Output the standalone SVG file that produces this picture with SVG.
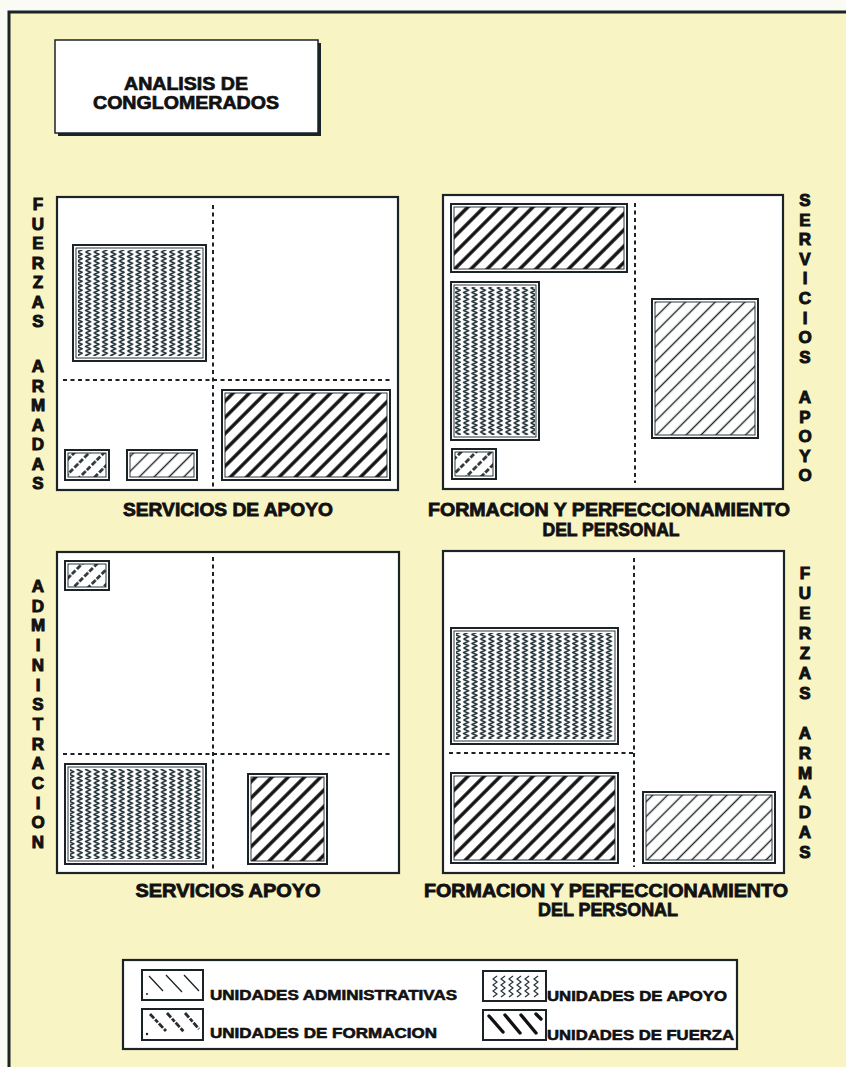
<svg xmlns="http://www.w3.org/2000/svg" width="846" height="1067" viewBox="0 0 846 1067">
<style>
.bg{fill:#fbfbf6}
.paper{fill:#f8f4c4}
.edge{stroke:#1b2327;stroke-width:3;fill:none}
.frame{fill:#fff;stroke:#1b2327;stroke-width:2.2}
.box{fill:#fff;stroke:#1b2327;stroke-width:2}
.inner{fill:none;stroke:#1b2327;stroke-width:0.9}
.dash{stroke:#1b2327;stroke-width:2;stroke-dasharray:4 3.5;fill:none}
.vl{font-family:"Liberation Sans",Arial,sans-serif;font-weight:bold;font-size:17px;fill:#111;stroke:#111;stroke-width:1;text-anchor:middle}
.ax{font-family:"Liberation Sans",Arial,sans-serif;font-weight:bold;font-size:18px;fill:#111;stroke:#111;stroke-width:0.8;text-anchor:middle}
.lg{font-family:"Liberation Sans",Arial,sans-serif;font-weight:bold;font-size:15px;fill:#111;stroke:#111;stroke-width:0.6}
.ttl{font-family:"Liberation Sans",Arial,sans-serif;font-weight:bold;font-size:18px;fill:#111;stroke:#111;stroke-width:0.7;text-anchor:middle}
.sw-thin{stroke:#1b2327;stroke-width:1.3;fill:none}
.sw-form{stroke:#262d30;stroke-width:2.8;stroke-dasharray:6 1.5 4 1.5;fill:none}
.sw-thick{stroke:#111;stroke-width:3.4;fill:none;stroke-linecap:round}
.sw-wave{stroke:#2a393e;stroke-width:1.3;fill:none;stroke-linejoin:round}
</style>
<defs>
<pattern id="pThick" width="11.5" height="11.5" patternUnits="userSpaceOnUse" patternTransform="rotate(45)">
<line x1="5.75" y1="-1" x2="5.75" y2="13" stroke="#111" stroke-width="3.4"/>
</pattern>
<pattern id="pThin" width="10.5" height="10.5" patternUnits="userSpaceOnUse" patternTransform="rotate(45)">
<line x1="5.25" y1="-1" x2="5.25" y2="12" stroke="#1b2327" stroke-width="1.4"/>
</pattern>
<pattern id="pForm" width="10.5" height="14" patternUnits="userSpaceOnUse" patternTransform="rotate(45)">
<line x1="5.25" y1="0" x2="5.25" y2="14" stroke="#30383b" stroke-width="2.8" stroke-dasharray="5 1.5 5.5 2"/>
</pattern>
<pattern id="pWave" width="8.4" height="9" patternUnits="userSpaceOnUse">
<path d="M1.5 0 L6.6 2.25 L1.5 4.5 L6.6 6.75 L1.5 9" stroke="#24343a" stroke-width="1.5" fill="none" stroke-linejoin="round"/>
</pattern>
</defs>

<rect class="bg" x="0" y="0" width="846" height="1067"/>
<rect class="paper" x="8" y="12" width="838" height="1055"/>
<path class="edge" d="M846 12 H9 V1067"/>

<g id="title">
<rect x="58" y="43" width="263" height="93" fill="#1b2327"/>
<rect x="55" y="40" width="263" height="93" fill="#fff" stroke="#1b2327" stroke-width="1.5"/>
<text class="ttl" x="186" y="90" textLength="124" lengthAdjust="spacingAndGlyphs">ANALISIS DE</text>
<text class="ttl" x="186" y="109" textLength="186" lengthAdjust="spacingAndGlyphs">CONGLOMERADOS</text>
</g>

<g id="quadrant-fuerzas-vs-servicios">
<rect class="frame" x="57" y="197" width="341" height="293"/>
<line class="dash" x1="213" y1="205" x2="213" y2="488"/>
<line class="dash" x1="63" y1="380" x2="393" y2="380"/>
<g id="q1-apoyo">
<rect class="box" x="73" y="245" width="133" height="116"/>
<rect x="78" y="250" width="123" height="106" fill="url(#pWave)"/>
<rect class="inner" x="76" y="248" width="127" height="110"/>
</g>
<g id="q1-fuerza">
<rect class="box" x="222" y="390" width="168" height="90"/>
<rect x="225" y="393" width="162" height="84" fill="url(#pThick)"/>
<rect class="inner" x="225" y="393" width="162" height="84"/>
</g>
<g id="q1-formacion">
<rect class="box" x="65" y="450" width="44" height="30"/>
<rect x="68" y="453" width="38" height="24" fill="url(#pForm)"/>
<rect class="inner" x="68" y="453" width="38" height="24"/>
</g>
<g id="q1-administrativas">
<rect class="box" x="127" y="450" width="70" height="30"/>
<rect x="130" y="453" width="64" height="24" fill="url(#pThin)"/>
<rect class="inner" x="130" y="453" width="64" height="24"/>
</g>
<text class="vl"><tspan x="38" y="210">F</tspan><tspan x="38" y="229.5">U</tspan><tspan x="38" y="249">E</tspan><tspan x="38" y="268.5">R</tspan><tspan x="38" y="288">Z</tspan><tspan x="38" y="307.5">A</tspan><tspan x="38" y="327">S</tspan><tspan x="38" y="372">A</tspan><tspan x="38" y="391.5">R</tspan><tspan x="38" y="411">M</tspan><tspan x="38" y="430.5">A</tspan><tspan x="38" y="450">D</tspan><tspan x="38" y="469.5">A</tspan><tspan x="38" y="489">S</tspan></text>
<text class="ax" x="228" y="516" textLength="210" lengthAdjust="spacingAndGlyphs">SERVICIOS DE APOYO</text>
</g>

<g id="quadrant-servicios-vs-formacion">
<rect class="frame" x="443" y="195" width="340" height="294"/>
<line class="dash" x1="635" y1="203" x2="635" y2="483"/>
<g id="q2-fuerza">
<rect class="box" x="451" y="204" width="176" height="68"/>
<rect x="454" y="207" width="170" height="62" fill="url(#pThick)"/>
<rect class="inner" x="454" y="207" width="170" height="62"/>
</g>
<g id="q2-apoyo">
<rect class="box" x="451" y="282" width="88" height="158"/>
<rect x="455" y="287" width="80" height="148" fill="url(#pWave)"/>
<rect class="inner" x="454" y="285" width="82" height="152"/>
</g>
<g id="q2-formacion">
<rect class="box" x="452" y="449" width="44" height="30"/>
<rect x="455" y="452" width="38" height="24" fill="url(#pForm)"/>
<rect class="inner" x="455" y="452" width="38" height="24"/>
</g>
<g id="q2-administrativas">
<rect class="box" x="652" y="299" width="106" height="139"/>
<rect x="655" y="302" width="100" height="133" fill="url(#pThin)"/>
<rect class="inner" x="655" y="302" width="100" height="133"/>
</g>
<text class="vl"><tspan x="805" y="206">S</tspan><tspan x="805" y="225.6">E</tspan><tspan x="805" y="245.2">R</tspan><tspan x="805" y="264.8">V</tspan><tspan x="805" y="284.4">I</tspan><tspan x="805" y="304">C</tspan><tspan x="805" y="323.6">I</tspan><tspan x="805" y="343.2">O</tspan><tspan x="805" y="362.8">S</tspan><tspan x="805" y="403">A</tspan><tspan x="805" y="422.6">P</tspan><tspan x="805" y="442.2">O</tspan><tspan x="805" y="461.8">Y</tspan><tspan x="805" y="481.4">O</tspan></text>
<text class="ax" x="609" y="516" textLength="362" lengthAdjust="spacingAndGlyphs">FORMACION Y PERFECCIONAMIENTO</text>
<text class="ax" x="611" y="536" textLength="137" lengthAdjust="spacingAndGlyphs">DEL PERSONAL</text>
</g>

<g id="quadrant-administracion-vs-servicios">
<rect class="frame" x="57" y="552" width="342" height="321"/>
<line class="dash" x1="213" y1="557" x2="213" y2="870"/>
<line class="dash" x1="63" y1="754" x2="393" y2="754"/>
<g id="q3-formacion">
<rect class="box" x="65" y="561" width="44" height="29"/>
<rect x="68" y="564" width="38" height="23" fill="url(#pForm)"/>
<rect class="inner" x="68" y="564" width="38" height="23"/>
</g>
<g id="q3-apoyo">
<rect class="box" x="65" y="764" width="141" height="100"/>
<rect x="70" y="769" width="131" height="90" fill="url(#pWave)"/>
<rect class="inner" x="68" y="767" width="135" height="94"/>
</g>
<g id="q3-fuerza">
<rect class="box" x="248" y="774" width="79" height="90"/>
<rect x="251" y="777" width="73" height="84" fill="url(#pThick)"/>
<rect class="inner" x="251" y="777" width="73" height="84"/>
</g>
<text class="vl"><tspan x="38" y="592">A</tspan><tspan x="38" y="611.7">D</tspan><tspan x="38" y="631.4">M</tspan><tspan x="38" y="651.1">I</tspan><tspan x="38" y="670.8">N</tspan><tspan x="38" y="690.5">I</tspan><tspan x="38" y="710.2">S</tspan><tspan x="38" y="729.9">T</tspan><tspan x="38" y="749.6">R</tspan><tspan x="38" y="769.3">A</tspan><tspan x="38" y="789">C</tspan><tspan x="38" y="808.7">I</tspan><tspan x="38" y="828.4">O</tspan><tspan x="38" y="848.1">N</tspan></text>
<text class="ax" x="228" y="897" textLength="185" lengthAdjust="spacingAndGlyphs">SERVICIOS APOYO</text>
</g>

<g id="quadrant-fuerzas-vs-formacion">
<rect class="frame" x="443" y="551" width="341" height="322"/>
<line class="dash" x1="634" y1="558" x2="634" y2="867"/>
<line class="dash" x1="449" y1="753" x2="633" y2="753"/>
<g id="q4-apoyo">
<rect class="box" x="451" y="628" width="167" height="116"/>
<rect x="456" y="633" width="157" height="106" fill="url(#pWave)"/>
<rect class="inner" x="454" y="631" width="161" height="110"/>
</g>
<g id="q4-fuerza">
<rect class="box" x="451" y="773" width="167" height="90"/>
<rect x="454" y="776" width="161" height="84" fill="url(#pThick)"/>
<rect class="inner" x="454" y="776" width="161" height="84"/>
</g>
<g id="q4-administrativas">
<rect class="box" x="643" y="792" width="132" height="71"/>
<rect x="646" y="795" width="126" height="65" fill="url(#pThin)"/>
<rect class="inner" x="646" y="795" width="126" height="65"/>
</g>
<text class="vl"><tspan x="805" y="579">F</tspan><tspan x="805" y="599">U</tspan><tspan x="805" y="619">E</tspan><tspan x="805" y="639">R</tspan><tspan x="805" y="659">Z</tspan><tspan x="805" y="679">A</tspan><tspan x="805" y="699">S</tspan><tspan x="805" y="739">A</tspan><tspan x="805" y="758.8">R</tspan><tspan x="805" y="778.6">M</tspan><tspan x="805" y="798.4">A</tspan><tspan x="805" y="818.2">D</tspan><tspan x="805" y="838">A</tspan><tspan x="805" y="857.8">S</tspan></text>
<text class="ax" x="606" y="897" textLength="364" lengthAdjust="spacingAndGlyphs">FORMACION Y PERFECCIONAMIENTO</text>
<text class="ax" x="608" y="916" textLength="140" lengthAdjust="spacingAndGlyphs">DEL PERSONAL</text>
</g>

<g id="legend">
<rect x="123" y="960" width="614" height="89" fill="#fff" stroke="#1b2327" stroke-width="2.2"/>
<g id="legend-administrativas">
<rect class="box" x="142" y="970" width="61" height="30"/>
<path class="sw-thin" d="M149 976 L163 991 M166 975 L182 992 M184 975 L199 991"/>
<circle cx="147" cy="994" r="1" fill="#1b2327"/>
<text class="lg" x="210" y="1000" textLength="247" lengthAdjust="spacingAndGlyphs">UNIDADES ADMINISTRATIVAS</text>
</g>
<g id="legend-formacion">
<rect class="box" x="142" y="1009" width="61" height="31"/>
<path class="sw-form" d="M150 1014 L166 1031 M167 1013 L184 1032 M185 1013 L199 1029"/>
<circle cx="147" cy="1034" r="1.2" fill="#1b2327"/>
<text class="lg" x="210" y="1038" textLength="227" lengthAdjust="spacingAndGlyphs">UNIDADES DE FORMACION</text>
</g>
<g id="legend-apoyo">
<rect class="box" x="483" y="971" width="63" height="30"/>
<path class="sw-wave" d="M497 976 l-4 3 l4 3 l-4 3 l4 3 l-4 3 l4 3 l-4 3 M505 976 l-4 3 l4 3 l-4 3 l4 3 l-4 3 l4 3 l-4 3 M513 976 l-4 3 l4 3 l-4 3 l4 3 l-4 3 l4 3 l-4 3 M521 976 l-4 3 l4 3 l-4 3 l4 3 l-4 3 l4 3 l-4 3 M529 976 l-4 3 l4 3 l-4 3 l4 3 l-4 3 l4 3 l-4 3 M538 976 l-4 3 l4 3 l-4 3 l4 3 l-4 3 l4 3 l-4 3"/>
<text class="lg" x="547" y="1001" textLength="180" lengthAdjust="spacingAndGlyphs">UNIDADES DE APOYO</text>
</g>
<g id="legend-fuerza">
<rect class="box" x="483" y="1010" width="63" height="30"/>
<path class="sw-thick" d="M489 1016 L503 1032 M505 1015 L520 1033 M521 1015 L536 1033 M536 1014 L541 1019"/>
<text class="lg" x="547" y="1040" textLength="187" lengthAdjust="spacingAndGlyphs">UNIDADES DE FUERZA</text>
</g>
</g>
</svg>
